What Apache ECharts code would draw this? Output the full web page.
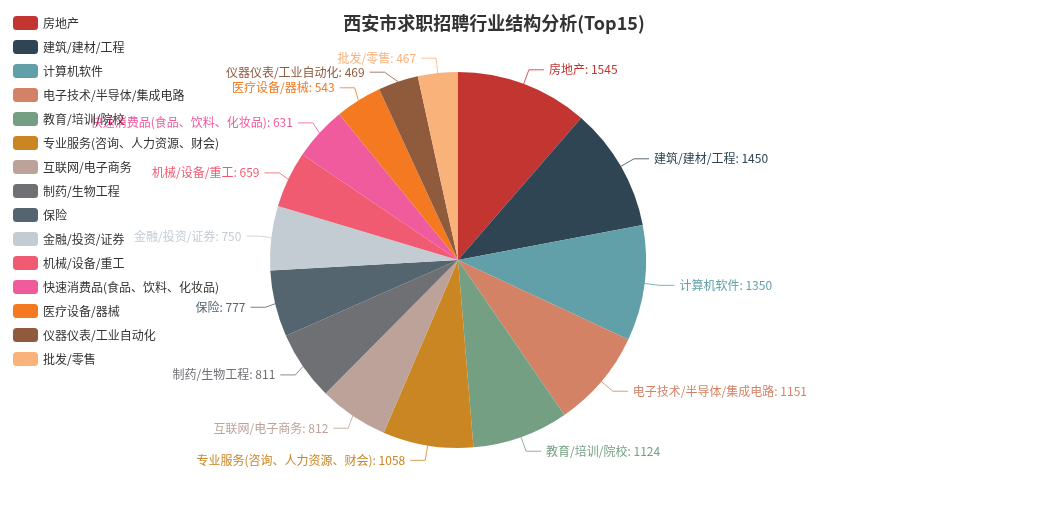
<!DOCTYPE html>
<html><head><meta charset="utf-8">
<script src="https://cdn.jsdelivr.net/npm/echarts@6/dist/echarts.min.js"></script>
<style>html,body{margin:0;padding:0;background:#fff}#c{width:1046px;height:518px}</style>
</head><body><div id="c"></div>
<script>
const categories = ['房地产','建筑/建材/工程','计算机软件','电子技术/半导体/集成电路','教育/培训/院校','专业服务(咨询、人力资源、财会)','互联网/电子商务','制药/生物工程','保险','金融/投资/证券','机械/设备/重工','快速消费品(食品、饮料、化妆品)','医疗设备/器械','仪器仪表/工业自动化','批发/零售'];
const values = [1545,1450,1350,1151,1124,1058,812,811,777,750,659,631,543,469,467];
const colors = ['#c23531','#2f4554','#61a0a8','#d48265','#749f83','#ca8622','#bda29a','#6e7074','#546570','#c4ccd3','#f05b72','#ef5b9c','#f47920','#905a3d','#fab27b'];
const FONT = '"Microsoft YaHei","Noto Sans CJK SC",sans-serif';
const chart = echarts.init(document.getElementById('c'));
chart.setOption({
  color: colors,
  textStyle: {fontFamily: FONT},
  title: {text: '西安市求职招聘行业结构分析(Top15)', left: 489, top: 9, textAlign: 'center',
    textStyle: {fontSize: 18, fontWeight: 'bold', color: '#333', fontFamily: FONT}},
  legend: {orient: 'vertical', left: 8, top: 11, itemWidth: 25, itemHeight: 14, itemGap: 10,
    icon: 'roundRect', data: categories, textStyle: {fontSize: 12, color: '#333', fontFamily: FONT}},
  series: [{
    type: 'pie', center: [458, 260], radius: [0, 188],
    startAngle: 90, clockwise: true, avoidLabelOverlap: true,
    itemStyle: {borderWidth: 0},
    label: {show: true, formatter: '{b}: {c}', fontSize: 12, fontFamily: FONT},
    labelLine: {length: 15, length2: 15},
    data: categories.map((n, i) => ({
      name: n, value: values[i],
      label: {color: colors[i]},
      labelLine: {lineStyle: {color: colors[i], opacity: 0.8}}
    }))
  }]
});
</script></body></html>
